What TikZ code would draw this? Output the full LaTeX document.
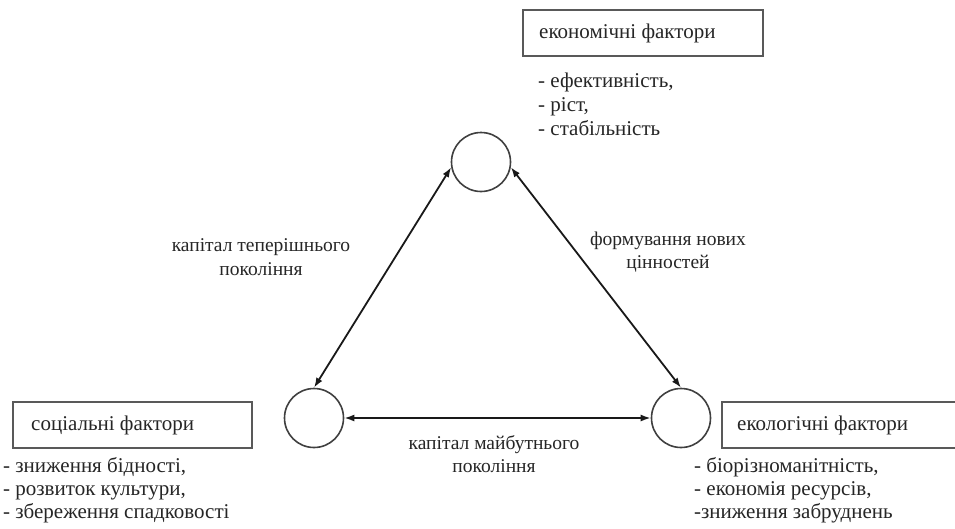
\documentclass[tikz,border=0pt]{standalone}
\usepackage{fontspec}
\setmainfont{Liberation Serif}
\usetikzlibrary{arrows.meta}
\begin{document}
\begin{tikzpicture}[x=1pt,y=-1pt,
  circ/.style={draw=black!75,line width=1.6pt,circle,minimum size=59pt,inner sep=0pt},
  fbox/.style={draw=black!65,line width=2pt,rectangle,inner sep=0pt},
  ttl/.style={font=\fontsize{21}{25}\selectfont,text=black!85,anchor=base west,inner sep=0pt},
  lbl/.style={font=\fontsize{19.5}{23.5}\selectfont,text=black!85,align=center,inner sep=0pt},
  lst/.style={font=\fontsize{21}{23}\selectfont,text=black!85,anchor=base west,inner sep=0pt},
  conn/.style={line width=1.8pt,draw=black!90,{Latex[length=10pt,width=7pt]}-{Latex[length=10pt,width=7pt]}}]
\useasboundingbox (0,0) rectangle (955,528);
\fill[white] (0,0) rectangle (955,528);
% circles
\node[circ] (T) at (481,162) {};
\node[circ] (L) at (314,418) {};
\node[circ] (R) at (681,418) {};
% boxes
\node[fbox,minimum width=240pt,minimum height=46pt] (eb) at (643,33) {};
\node[ttl] (et) at (539,38) {економічні фактори};
\node[fbox,minimum width=239pt,minimum height=46pt] (sb) at (132.5,425) {};
\node[ttl] (st) at (31,430) {соціальні фактори};
\node[fbox,minimum width=250pt,minimum height=46pt] (ob) at (847,425) {};
\node[ttl] (ot) at (737,430) {екологічні фактори};
% lists
\node[lst] (e1) at (538,87) {- ефективність,};
\node[lst] (e2) at (538,111) {- ріст,};
\node[lst] (e3) at (538,135) {- стабільність};
\node[lst] (s1) at (3,472) {- зниження бідності,};
\node[lst] (s2) at (3,495) {- розвиток культури,};
\node[lst] (s3) at (3,518) {- збереження спадковості};
\node[lst] (o1) at (694,472) {- біорізноманітність,};
\node[lst] (o2) at (694,495) {- економія ресурсів,};
\node[lst] (o3) at (694,518) {-зниження забруднень};
% labels
\node[lbl] (l1) at (261,257) {капітал теперішнього\\покоління};
\node[lbl] (l2) at (668,252) {формування нових\\цінностей};
\node[lbl] (l3) at (494,454) {капітал майбутнього\\покоління};
% connectors
\draw[conn] (T.190) -- (L.90);
\draw[conn] (T.-10) -- (R.90);
\draw[conn] (L.east) -- (R.west);
\end{tikzpicture}
\end{document}
